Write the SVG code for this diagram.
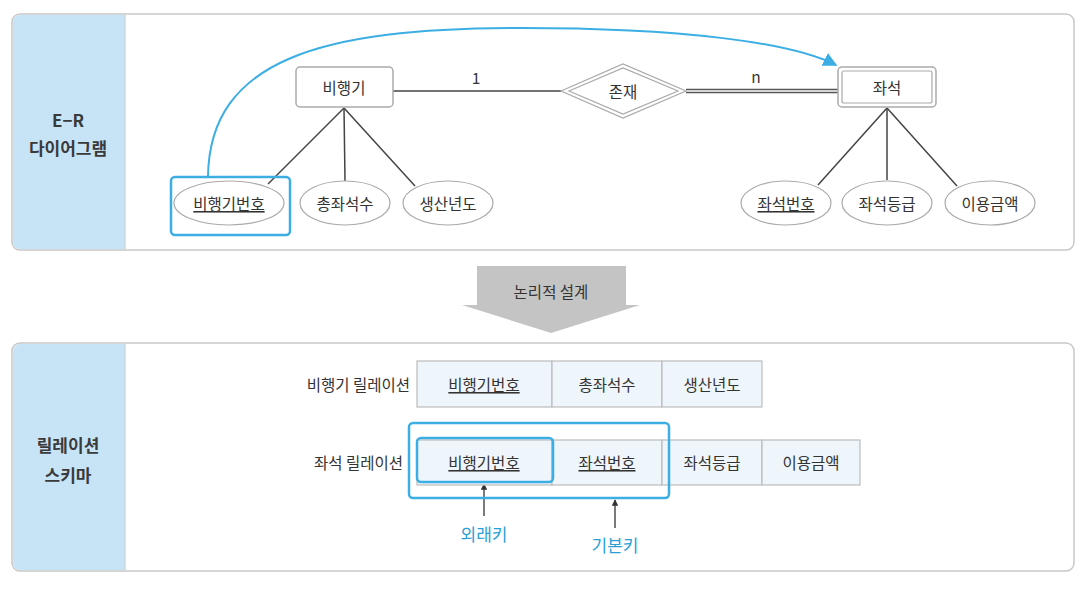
<svg xmlns="http://www.w3.org/2000/svg" width="1090" height="592" viewBox="0 0 1090 592">
<style>
text{font-family:"Noto Sans CJK KR","Noto Sans",sans-serif;fill:#333;font-size:15.5px;text-anchor:middle;dominant-baseline:central}
.side{font-size:17px;font-weight:bold;fill:#3a3a3a}
.panel{fill:#fff;stroke:#c8c8c8;stroke-width:1.5}
.sidebar{fill:#c7e4f6}
.ent{fill:#fff;stroke:#aaa;stroke-width:1.5}
.attr{fill:#fff;stroke:#aaa;stroke-width:1.2}
.ln{stroke:#444;stroke-width:1.5;fill:none}
.cell{fill:#eef5fb;stroke:#bcbcbc;stroke-width:1.2}
.hl{fill:none;stroke:#3caee3;stroke-width:2.5}
.blue{fill:#2a9fd6;font-size:17px}
.u{text-decoration:underline}
</style>
<defs>
<marker id="ab" viewBox="0 0 10 10" refX="9" refY="5" markerWidth="7" markerHeight="7" orient="auto"><path d="M0,0 L10,5 L0,10 z" fill="#3caee3"/></marker>
<marker id="ak" viewBox="0 0 10 10" refX="9" refY="5" markerWidth="5" markerHeight="5" orient="auto"><path d="M0,0 L10,5 L0,10 z" fill="#333"/></marker>
</defs>

<g id="panel-er">
<rect class="panel" x="12" y="14" width="1062" height="236" rx="8"/>
<path class="sidebar" d="M20,15 H125 V249 H20 A7,7 0 0 1 13,242 V22 A7,7 0 0 1 20,15 z"/>
<line x1="125" y1="15" x2="125" y2="249" stroke="#c8c8c8" stroke-width="1"/>
<text class="side" x="68" y="119">E−R</text>
<text class="side" x="68" y="147">다이어그램</text>
</g>

<g id="panel-schema">
<rect class="panel" x="12" y="343" width="1062" height="228" rx="8"/>
<path class="sidebar" d="M20,344 H125 V570 H20 A7,7 0 0 1 13,563 V351 A7,7 0 0 1 20,344 z"/>
<line x1="125" y1="344" x2="125" y2="570" stroke="#c8c8c8" stroke-width="1"/>
<text class="side" x="68" y="444">릴레이션</text>
<text class="side" x="68" y="474">스키마</text>
</g>

<g id="connectors">
<line class="ln" x1="393" y1="91" x2="561" y2="91"/>
<line x1="686" y1="89.5" x2="838" y2="89.5" stroke="#555" stroke-width="1.5"/>
<line x1="686" y1="92.5" x2="838" y2="92.5" stroke="#555" stroke-width="1.5"/>
<line class="ln" x1="344" y1="108" x2="268" y2="184"/>
<line class="ln" x1="344" y1="108" x2="345" y2="181"/>
<line class="ln" x1="344" y1="108" x2="415" y2="186"/>
<line class="ln" x1="887" y1="108" x2="818" y2="185"/>
<line class="ln" x1="887" y1="108" x2="887" y2="180"/>
<line class="ln" x1="887" y1="108" x2="957" y2="186"/>
<path d="M208,176 C210,60 320,28 520,28 C680,28 790,42 836,65" fill="none" stroke="#3caee3" stroke-width="2" marker-end="url(#ab)"/>
<line x1="484" y1="516" x2="484" y2="484" stroke="#333" stroke-width="1.3" marker-end="url(#ak)"/>
<line x1="615" y1="528" x2="615" y2="500" stroke="#333" stroke-width="1.3" marker-end="url(#ak)"/>
</g>

<g id="label-1"><text x="476" y="77">1</text></g>
<g id="label-n"><text x="756" y="76">n</text></g>

<g id="ent-airplane">
<rect class="ent" x="296" y="67" width="97" height="40" rx="4"/>
<text x="344" y="87">비행기</text>
</g>

<g id="rel-exist">
<polygon points="561,91 623,64 686,91 623,118" fill="#fff" stroke="#aaa" stroke-width="1.2"/>
<polygon points="569,91 623,68 678,91 623,114" fill="none" stroke="#aaa" stroke-width="1.2"/>
<text x="623" y="91">존재</text>
</g>

<g id="ent-seat">
<rect class="ent" x="838" y="67" width="98" height="40" rx="4"/>
<rect x="842" y="71" width="90" height="32" rx="2" fill="none" stroke="#aaa" stroke-width="1.2"/>
<text x="887" y="87">좌석</text>
</g>

<g id="attr-airplane-no">
<ellipse class="attr" cx="229" cy="203" rx="55" ry="22"/>
<text class="u" x="229" y="203">비행기번호</text>
<rect class="hl" x="171" y="177" width="119" height="58" rx="4"/>
</g>
<g id="attr-total-seats">
<ellipse class="attr" cx="345" cy="203" rx="45" ry="22"/>
<text x="345" y="203">총좌석수</text>
</g>
<g id="attr-year">
<ellipse class="attr" cx="448" cy="203" rx="45" ry="22"/>
<text x="448" y="203">생산년도</text>
</g>
<g id="attr-seat-no">
<ellipse class="attr" cx="786" cy="203" rx="45" ry="22"/>
<text class="u" x="786" y="203">좌석번호</text>
</g>
<g id="attr-seat-grade">
<ellipse class="attr" cx="887" cy="203" rx="45" ry="22"/>
<text x="887" y="203">좌석등급</text>
</g>
<g id="attr-price">
<ellipse class="attr" cx="990" cy="203" rx="45" ry="22"/>
<text x="990" y="203">이용금액</text>
</g>

<g id="arrow-logical">
<polygon points="477,266 626,266 626,305 640,305 551,333 462,305 477,305" fill="#c4c4c4"/>
<text x="551" y="291">논리적 설계</text>
</g>

<g id="rel-airplane">
<text x="410" y="384" style="text-anchor:end">비행기 릴레이션</text>
<rect class="cell" x="417" y="361" width="135" height="46"/>
<rect class="cell" x="552" y="361" width="110" height="46"/>
<rect class="cell" x="662" y="361" width="100" height="46"/>
<text class="u" x="484" y="384">비행기번호</text>
<text x="607" y="384">총좌석수</text>
<text x="712" y="384">생산년도</text>
</g>

<g id="rel-seat">
<text x="403" y="462" style="text-anchor:end">좌석 릴레이션</text>
<rect class="cell" x="417" y="440" width="135" height="45"/>
<rect class="cell" x="552" y="440" width="110" height="45"/>
<rect class="cell" x="662" y="440" width="100" height="45"/>
<rect class="cell" x="762" y="440" width="98" height="45"/>
<text class="u" x="484" y="462">비행기번호</text>
<text class="u" x="607" y="462">좌석번호</text>
<text x="712" y="462">좌석등급</text>
<text x="811" y="462">이용금액</text>
<rect class="hl" x="409" y="423" width="260" height="75" rx="4"/>
<rect class="hl" x="417" y="438" width="136" height="44" rx="4"/>
</g>

<g id="label-fk"><text class="blue" x="484" y="533">외래키</text></g>
<g id="label-pk"><text class="blue" x="615" y="544">기본키</text></g>
</svg>
